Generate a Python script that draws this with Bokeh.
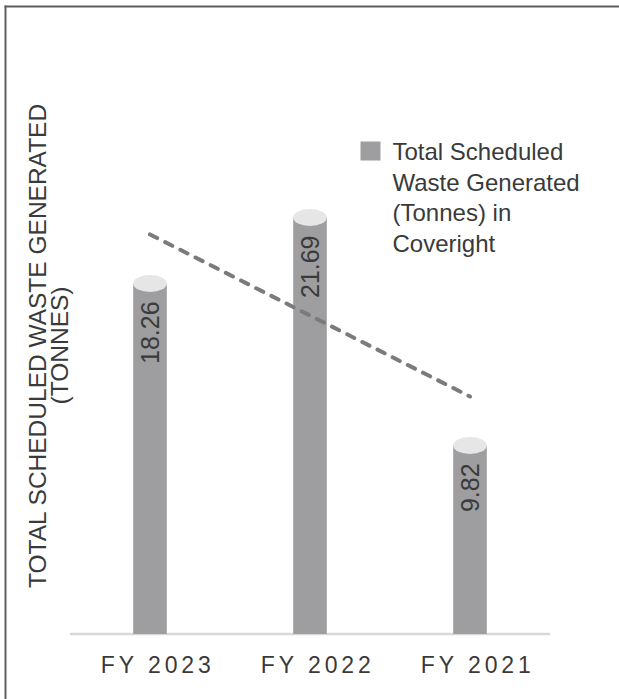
import numpy as np
from math import pi

from bokeh.plotting import figure
from bokeh.models import FactorRange, Range1d, Label, BoxAnnotation, ColumnDataSource
from bokeh.core.properties import value
from bokeh.embed import file_html
from bokeh.resources import INLINE

# ---- data -------------------------------------------------------------
categories = ["FY 2023", "FY 2022", "FY 2021"]
waste_tonnes = [18.26, 21.69, 9.82]
legend_lines = ["Total Scheduled", "Waste Generated", "(Tonnes) in", "Coveright"]
y_title_lines = ["TOTAL SCHEDULED WASTE GENERATED", "(TONNES)"]

# ---- styling ----------------------------------------------------------
FONT = "Liberation Sans"
TEXT = "#3a3a3a"
BAR = "#9e9ea0"
CAP = "#e6e6e6"
TREND = "#7b7b7b"
EDGE = "#5e5e5e"

W, H = 619, 699
NARROW = "\u2006"           # six-per-em space used for letter tracking


def spaced(s):
    """Tracked-out label: a narrow space between characters."""
    return NARROW * 3 + NARROW.join(s.replace(" ", "\u00a0"))


factors = [spaced(c) for c in categories]
value_labels = [f"{v:.2f}" for v in waste_tonnes]

# straight-line trend fitted through the three years
idx = np.arange(len(waste_tonnes))
slope, intercept = np.polyfit(idx, waste_tonnes, 1)
trend = list(intercept + slope * idx)

src = ColumnDataSource(dict(cat=factors, val=waste_tonnes, lab=value_labels, trend=trend))

# the plotting area fills the whole card; the year axis is pinned at zero
p = figure(
    width=W, height=H,
    x_range=FactorRange(*factors, range_padding=0.2896, range_padding_units="percent"),
    y_range=Range1d(-3.411, 32.995),
    output_backend="svg", toolbar_location=None,
    min_border_left=0, min_border_right=0,
    min_border_top=0, min_border_bottom=0,
    background_fill_color="white", border_fill_color="white",
)


def strip(left, right, top, bottom, color):
    """Solid rectangle given in pixels from the frame's bottom-left corner."""
    return BoxAnnotation(left=left, right=right, top=top, bottom=bottom,
                         left_units="screen", right_units="screen",
                         top_units="screen", bottom_units="screen",
                         fill_color=color, fill_alpha=1, line_color=None)


# card edge along the top and left
p.add_layout(strip(4, W, H - 5, H - 7, EDGE))
p.add_layout(strip(4, 6, H - 5, 0, EDGE))

# baseline under the bars, spanning the category band only
p.segment(x0=0, x1=len(categories), y0=0, y1=0, line_color="#d8d8d8", line_width=2.5)

# cylinder bodies and their lighter elliptical tops
p.vbar(x="cat", top="val", bottom=0, width=0.21, source=src,
       fill_color=BAR, line_color=None)
p.ellipse(x="cat", y="val", width=0.21, height=17, height_units="screen",
          source=src, fill_color=CAP, line_color=None)

# value labels running up inside each bar
p.text(x="cat", y="val", text="lab", source=src, angle=pi / 2,
       text_align="right", text_baseline="middle", y_offset=18,
       text_font=value(FONT), text_font_size="25px", text_color=TEXT)

# dashed trend line
p.line(x="cat", y="trend", source=src, line_color=TREND, line_width=4,
       line_dash="8 9", line_cap="round")

# axes
p.xaxis.fixed_location = 0
p.xaxis.axis_line_color = None
p.xaxis.major_tick_line_color = None
p.xaxis.minor_tick_line_color = None
p.xaxis.major_label_standoff = 12
p.xaxis.major_label_text_font = FONT
p.xaxis.major_label_text_font_size = "23px"
p.xaxis.major_label_text_color = TEXT
p.yaxis.visible = False
p.xgrid.grid_line_color = None
p.ygrid.grid_line_color = None
p.outline_line_color = None

# vertical axis title, two lines
for i, line in enumerate(y_title_lines):
    p.add_layout(Label(x=37 + 22 * i, y=H - 345, x_units="screen", y_units="screen",
                       text=line, angle=pi / 2, text_align="center", text_baseline="middle",
                       text_font=FONT, text_font_size="24.5px", text_color=TEXT))

# legend: swatch plus wrapped label
p.add_layout(strip(360, 380, H - 141, H - 160, BAR))
for i, line in enumerate(legend_lines):
    p.add_layout(Label(x=392, y=H - 151 - 30.5 * i, x_units="screen", y_units="screen",
                       text=line, text_align="left", text_baseline="alphabetic",
                       text_font=FONT, text_font_size="24px", text_color=TEXT))

open("out.html", "w").write(file_html(p, INLINE))
